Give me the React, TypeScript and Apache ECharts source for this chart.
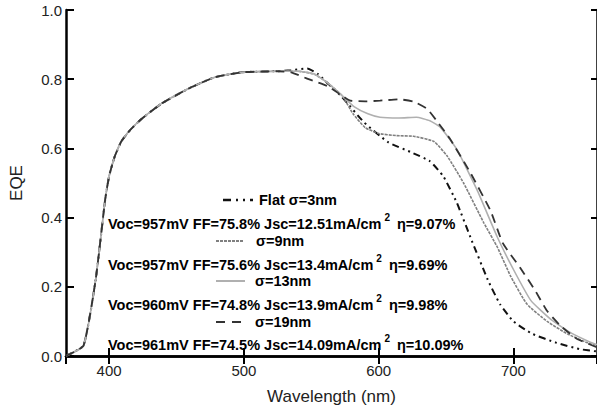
import React, { useEffect, useRef } from "react";
import * as echarts from "echarts";

// Shared rising part of all curves
const commonWl = [368, 381, 390, 397, 400, 404, 409, 416, 424, 439, 459, 478, 498, 513, 525];
const commonEqe = [0.0, 0.03, 0.22, 0.45, 0.52, 0.575, 0.62, 0.655, 0.685, 0.73, 0.773, 0.805, 0.82, 0.822, 0.823];

// Tails of each curve
const flatWl = [535, 547, 555, 563, 572, 589, 607, 624, 638, 648, 658, 668, 681, 690, 700, 714, 732, 749, 762];
const flatEqe = [0.826, 0.831, 0.815, 0.785, 0.752, 0.676, 0.618, 0.589, 0.563, 0.519, 0.443, 0.344, 0.22, 0.15, 0.1, 0.064, 0.038, 0.02, 0.013];

const s9Wl = [540, 552, 562, 573, 581, 590, 600, 613, 626, 641, 651, 663, 678, 688, 698, 710, 725, 740, 755, 762];
const s9Eqe = [0.823, 0.815, 0.79, 0.752, 0.7, 0.66, 0.643, 0.637, 0.635, 0.62, 0.577, 0.5, 0.385, 0.315, 0.23, 0.15, 0.1, 0.064, 0.038, 0.03];

const s13Wl = [540, 552, 562, 573, 582, 592, 601, 615, 628, 638, 646, 658, 673, 688, 700, 713, 728, 743, 757, 762];
const s13Eqe = [0.823, 0.815, 0.79, 0.752, 0.72, 0.7, 0.69, 0.688, 0.69, 0.68, 0.66, 0.597, 0.48, 0.344, 0.25, 0.16, 0.105, 0.066, 0.04, 0.033];

const s19Wl = [535, 548, 562, 573, 579, 590, 601, 615, 626, 636, 643, 653, 668, 683, 692, 705, 716, 725, 735, 747, 762];
const s19Eqe = [0.82, 0.8, 0.78, 0.752, 0.738, 0.736, 0.738, 0.742, 0.735, 0.714, 0.68, 0.627, 0.53, 0.42, 0.327, 0.255, 0.19, 0.13, 0.087, 0.05, 0.025];

const legendLabels = ["Flat σ=3nm", "σ=9nm", "σ=13nm", "σ=19nm"];
const vocTexts = [
  ["Voc=957mV FF=75.8% Jsc=12.51mA/cm", "η=9.07%"],
  ["Voc=957mV FF=75.6% Jsc=13.4mA/cm", "η=9.69%"],
  ["Voc=960mV FF=74.8% Jsc=13.9mA/cm", "η=9.98%"],
  ["Voc=961mV FF=74.5% Jsc=14.09mA/cm", "η=10.09%"],
];

const xMin = 368;
const xMax = 762;

function build(wl: number[], eqe: number[]) {
  const pts: number[][] = [];
  commonWl.forEach((w, i) => pts.push([w, commonEqe[i]]));
  wl.forEach((w, i) => pts.push([w, eqe[i]]));
  return pts;
}

const styles = [
  { color: "#111", width: 2, type: [7, 4, 2, 4, 2, 4] as any },
  { color: "#808080", width: 1.6, type: [3, 1] as any },
  { color: "#b0b0b0", width: 1.6, type: "solid" as any },
  { color: "#333", width: 1.8, type: [9, 6] as any },
];

export default function App() {
  const ref = useRef<HTMLDivElement>(null);
  useEffect(() => {
    if (!ref.current) return;
    const chart = echarts.init(ref.current, undefined, { renderer: "svg" });
    const font = "Liberation Sans, Arial, sans-serif";
    const datasets = [build(flatWl, flatEqe), build(s9Wl, s9Eqe), build(s13Wl, s13Eqe), build(s19Wl, s19Eqe)];
    const order = [2, 1, 3, 0];
    const series: any[] = order.map((i) => ({
      type: "line",
      data: datasets[i],
      showSymbol: false,
      smooth: 0.15,
      lineStyle: { color: styles[i].color, width: styles[i].width, type: styles[i].type },
      z: 2 + i,
    }));

    const legendGraphics: any[] = [];
    const symY = [200, 241, 281, 322];
    const symX = [[223, 253], [216, 244], [216, 245], [216, 245]];
    const txtX = [259, 256, 255, 255];
    const vocY = [224, 265, 305, 345];
    for (let i = 0; i < 4; i++) {
      legendGraphics.push({
        type: "line",
        shape: { x1: symX[i][0], y1: symY[i], x2: symX[i][1], y2: symY[i] },
        style: { stroke: styles[i].color, lineWidth: i === 0 ? 2.5 : 2, lineDash: i === 1 ? [3, 1] : i === 0 ? [8, 5, 2, 5, 2, 5] : i === 3 ? [9, 7] : null },
        z: 10,
      });
      legendGraphics.push({
        type: "text",
        x: txtX[i],
        y: symY[i],
        style: {
          text: legendLabels[i],
          font: `bold 14.5px ${font}`,
          fill: "#000",
          verticalAlign: "middle",
          align: "left",
        },
        z: 10,
      });
      legendGraphics.push({
        type: "text",
        x: 108,
        y: vocY[i],
        style: {
          text: `${vocTexts[i][0]}{sup|2} ${vocTexts[i][1]}`,
          font: `bold 14.5px ${font}`,
          fill: "#000",
          verticalAlign: "middle",
          align: "left",
          rich: {
            sup: { font: `bold 10px ${font}`, fill: "#000", padding: [0, 3, 14, 3] },
          },
        },
        z: 10,
      });
    }

    const axisCommon = {
      min: xMin,
      max: xMax,
      splitNumber: 4,
      axisLine: { lineStyle: { color: "#000", width: 2.5 } },
      axisTick: { inside: true, length: 8, lineStyle: { color: "#000", width: 2 } },
      splitLine: { show: false },
    };

    chart.setOption({
      animation: false,
      backgroundColor: "#fff",
      grid: { left: 64, right: 0, top: 10, bottom: 56, containLabel: false },
      xAxis: [
        {
          type: "value",
          position: "bottom",
          ...axisCommon,
          axisLabel: {
            showMinLabel: false,
            showMaxLabel: false,
            margin: 7,
            color: "#222",
            fontSize: 15,
            fontFamily: font,
            formatter: (v: number) => (v % 100 === 0 ? String(v) : ""),
          },
          name: "Wavelength (nm)",
          nameLocation: "middle",
          nameGap: 32,
          nameTextStyle: { color: "#222", fontSize: 17, fontFamily: font },
        },
        {
          type: "value",
          position: "top",
          ...axisCommon,
          axisLabel: { show: false },
        },
      ],
      yAxis: [
        {
          type: "value",
          min: 0,
          max: 1,
          interval: 0.2,
          position: "left",
          axisLine: { lineStyle: { color: "#000", width: 2.5 } },
          axisTick: { inside: true, length: 8, lineStyle: { color: "#000", width: 2 } },
          splitLine: { show: false },
          axisLabel: {
            margin: 4,
            color: "#222",
            fontSize: 15,
            fontFamily: font,
            formatter: (v: number) => v.toFixed(1),
          },
          name: "EQE",
          nameLocation: "middle",
          nameGap: 41,
          nameTextStyle: { color: "#222", fontSize: 17, fontFamily: font },
        },
        {
          type: "value",
          min: 0,
          max: 1,
          interval: 0.2,
          position: "right",
          axisLine: { show: true, lineStyle: { color: "#000", width: 2.5 } },
          axisTick: { inside: true, length: 6, lineStyle: { color: "#000", width: 2 } },
          splitLine: { show: false },
          axisLabel: { show: false },
        },
      ],
      series,
      graphic: legendGraphics,
    });
    return () => chart.dispose();
  }, []);
  return <div ref={ref} style={{ width: 597, height: 412, position: "absolute", left: 0, top: 0 }} />;
}
